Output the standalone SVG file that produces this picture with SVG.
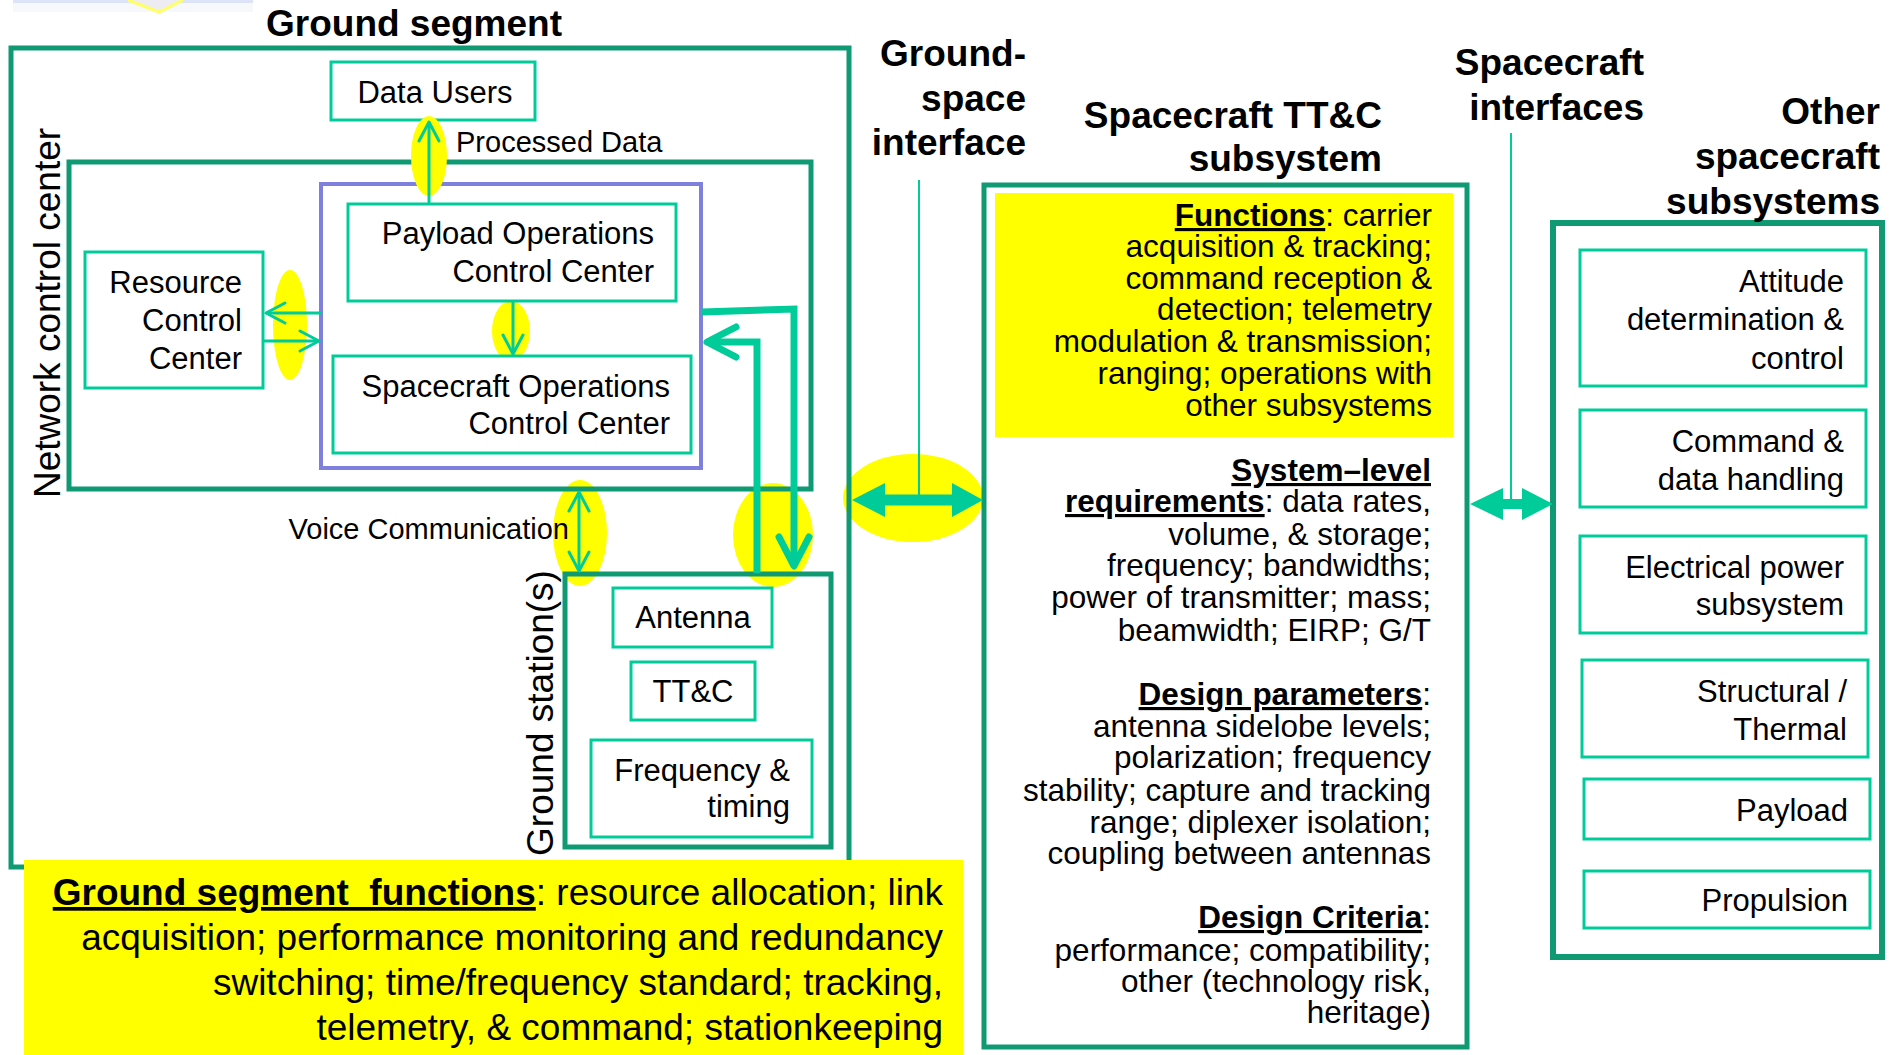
<svg xmlns="http://www.w3.org/2000/svg" width="1898" height="1055" viewBox="0 0 1898 1055">
<style>
text{font-family:"Liberation Sans",Arial,sans-serif;fill:#000}
.t37b{font-size:37px;font-weight:bold}
.rot{font-size:37px}
.lbl{font-size:31px}
.cl{font-size:29px}
.body{font-size:31.5px}
.gf{font-size:37px}
.h{font-weight:bold;text-decoration:underline}
.box{fill:#fff;stroke:#00cc99;stroke-width:3}
.big{fill:none;stroke:#0f9a73;stroke-width:5}
.pur{fill:none;stroke:#7f7fdd;stroke-width:4}
.hl{fill:#ffff00}
.thin{fill:none;stroke:#00cc99;stroke-width:3}
.thick{fill:none;stroke:#00cc99;stroke-width:7;stroke-linejoin:miter}
.lead{stroke:#00cc99;stroke-width:2}
.dbl{fill:#00cc99}
</style>
<defs>
<marker id="openArrow" viewBox="-24 -14 28 28" refX="0" refY="0" markerWidth="28" markerHeight="28" markerUnits="userSpaceOnUse" orient="auto-start-reverse">
<path d="M-19,-10 L0,0 L-19,10" fill="none" stroke="#00cc99" stroke-width="3" stroke-linecap="round" stroke-linejoin="round"/>
</marker>
<marker id="thickArrow" viewBox="-36 -20 42 40" refX="0" refY="0" markerWidth="42" markerHeight="40" markerUnits="userSpaceOnUse" orient="auto">
<path d="M-29,-15 L0,0 L-29,15" fill="none" stroke="#00cc99" stroke-width="7" stroke-linecap="round" stroke-linejoin="round"/>
</marker>
</defs>
<rect width="1898" height="1055" fill="#fff"/>

<rect x="13" y="0" width="240" height="3" fill="#dde4f8"/>
<rect x="13" y="3" width="240" height="9" fill="#f7f8fc"/>
<polyline points="128,0 159,12 183,0" fill="#ececf2" stroke="#ffff66" stroke-width="3"/>

<g id="highlights">
<ellipse class="hl" cx="290" cy="325" rx="17" ry="55"/>
<ellipse class="hl" cx="511" cy="331" rx="19" ry="30"/>
<ellipse class="hl" cx="580" cy="533" rx="27" ry="53"/>
<ellipse class="hl" cx="773" cy="535" rx="40" ry="52"/>
<ellipse class="hl" cx="913" cy="498" rx="70" ry="44"/>
</g>

<g id="ground-segment">
<rect class="big" x="11" y="48" width="838" height="819"/>
<text class="t37b" x="266" y="36">Ground segment</text>
</g>

<g id="network-control-center">
<rect class="big" x="69" y="162" width="742" height="327"/>
<text class="rot" text-anchor="middle" transform="translate(60,313) rotate(-90)">Network control center</text>
</g>

<g id="data-users">
<rect class="box" x="331" y="62" width="204" height="58"/>
<text class="lbl" x="435" y="103" text-anchor="middle">Data Users</text>
</g>

<g id="operations-centers">
<rect class="pur" x="321" y="184" width="380" height="284"/>
</g>

<g id="payload-occ">
<rect class="box" x="348" y="204" width="328" height="97"/>
<text class="lbl" text-anchor="end"><tspan x="654" y="244">Payload Operations</tspan><tspan x="654" y="282">Control Center</tspan></text>
</g>

<g id="spacecraft-occ">
<rect class="box" x="333" y="356" width="358" height="97"/>
<text class="lbl" text-anchor="end"><tspan x="670" y="397">Spacecraft Operations</tspan><tspan x="670" y="434">Control Center</tspan></text>
</g>

<g id="resource-cc">
<rect class="box" x="85" y="252" width="178" height="136"/>
<text class="lbl" text-anchor="end"><tspan x="242" y="293">Resource</tspan><tspan x="242" y="331">Control</tspan><tspan x="242" y="369">Center</tspan></text>
</g>

<ellipse id="pd-highlight" class="hl" cx="429" cy="156" rx="18" ry="40"/>

<g id="ground-stations">
<rect class="big" x="565" y="574" width="266" height="273"/>
<text class="rot" text-anchor="middle" transform="translate(553,713) rotate(-90)">Ground station(s)</text>
</g>

<g id="antenna">
<rect class="box" x="613" y="588" width="159" height="59"/>
<text class="lbl" x="693" y="628" text-anchor="middle">Antenna</text>
</g>

<g id="gs-ttc">
<rect class="box" x="631" y="662" width="124" height="58"/>
<text class="lbl" x="693" y="702" text-anchor="middle">TT&amp;C</text>
</g>

<g id="freq-timing">
<rect class="box" x="591" y="740" width="221" height="97"/>
<text class="lbl" text-anchor="end"><tspan x="790" y="781">Frequency &amp;</tspan><tspan x="790" y="817">timing</tspan></text>
</g>

<g id="ground-functions">
<rect class="hl" x="24" y="860" width="939" height="195"/>
<text class="gf" text-anchor="end"><tspan x="943" y="905"><tspan class="h">Ground segment&#160; functions</tspan>: resource allocation; link</tspan><tspan x="943" y="950">acquisition; performance monitoring and redundancy</tspan><tspan x="943" y="995">switching; time/frequency standard; tracking,</tspan><tspan x="943" y="1040">telemetry, &amp; command; stationkeeping</tspan></text>
</g>

<g id="ground-space-interface">
<text class="t37b" text-anchor="end"><tspan x="1026" y="66">Ground-</tspan><tspan x="1026" y="111">space</tspan><tspan x="1026" y="155">interface</tspan></text>
</g>

<g id="spacecraft-ttc">
<rect class="big" x="984" y="185" width="483" height="862"/>
<text class="t37b" text-anchor="end"><tspan x="1382" y="128">Spacecraft TT&amp;C</tspan><tspan x="1382" y="171">subsystem</tspan></text>
<rect class="hl" x="995" y="193" width="458" height="244"/>
<text class="body" text-anchor="end"><tspan x="1432" y="226"><tspan class="h">Functions</tspan>: carrier</tspan><tspan x="1432" y="257">acquisition &amp; tracking;</tspan><tspan x="1432" y="289">command reception &amp;</tspan><tspan x="1432" y="320">detection; telemetry</tspan><tspan x="1432" y="352">modulation &amp; transmission;</tspan><tspan x="1432" y="384">ranging; operations with</tspan><tspan x="1432" y="416">other subsystems</tspan></text>
<text class="body" text-anchor="end"><tspan x="1431" y="481" class="h">System–level</tspan><tspan x="1431" y="512"><tspan class="h">requirements</tspan>: data rates,</tspan><tspan x="1431" y="545">volume, &amp; storage;</tspan><tspan x="1431" y="576">frequency; bandwidths;</tspan><tspan x="1431" y="608">power of transmitter; mass;</tspan><tspan x="1431" y="641">beamwidth; EIRP; G/T</tspan></text>
<text class="body" text-anchor="end"><tspan x="1431" y="705"><tspan class="h">Design parameters</tspan>:</tspan><tspan x="1431" y="737">antenna sidelobe levels;</tspan><tspan x="1431" y="768">polarization; frequency</tspan><tspan x="1431" y="801">stability; capture and tracking</tspan><tspan x="1431" y="833">range; diplexer isolation;</tspan><tspan x="1431" y="864">coupling between antennas</tspan></text>
<text class="body" text-anchor="end"><tspan x="1431" y="928"><tspan class="h">Design Criteria</tspan>:</tspan><tspan x="1431" y="961">performance; compatibility;</tspan><tspan x="1431" y="992">other (technology risk,</tspan><tspan x="1431" y="1023">heritage)</tspan></text>
</g>

<g id="spacecraft-interfaces">
<text class="t37b" text-anchor="end"><tspan x="1644" y="75">Spacecraft</tspan><tspan x="1644" y="120">interfaces</tspan></text>
</g>

<g id="other-subsystems">
<rect class="big" x="1553" y="223" width="329" height="734" style="stroke-width:6"/>
<text class="t37b" text-anchor="end"><tspan x="1880" y="124">Other</tspan><tspan x="1880" y="169">spacecraft</tspan><tspan x="1880" y="214">subsystems</tspan></text>
</g>

<g id="attitude">
<rect class="box" x="1580" y="250" width="286" height="136"/>
<text class="lbl" text-anchor="end"><tspan x="1844" y="292">Attitude</tspan><tspan x="1844" y="330">determination &amp;</tspan><tspan x="1844" y="369">control</tspan></text>
</g>
<g id="cdh">
<rect class="box" x="1580" y="410" width="286" height="97"/>
<text class="lbl" text-anchor="end"><tspan x="1844" y="452">Command &amp;</tspan><tspan x="1844" y="490">data handling</tspan></text>
</g>
<g id="eps">
<rect class="box" x="1580" y="536" width="286" height="97"/>
<text class="lbl" text-anchor="end"><tspan x="1844" y="578">Electrical power</tspan><tspan x="1844" y="615">subsystem</tspan></text>
</g>
<g id="structural">
<rect class="box" x="1582" y="660" width="286" height="97"/>
<text class="lbl" text-anchor="end"><tspan x="1847" y="702">Structural /</tspan><tspan x="1847" y="740">Thermal</tspan></text>
</g>
<g id="payload">
<rect class="box" x="1584" y="779" width="286" height="60"/>
<text class="lbl" x="1848" y="821" text-anchor="end">Payload</text>
</g>
<g id="propulsion">
<rect class="box" x="1584" y="871" width="286" height="57"/>
<text class="lbl" x="1848" y="911" text-anchor="end">Propulsion</text>
</g>

<g id="connectors">
<line class="thin" x1="429" y1="203" x2="429" y2="122" marker-end="url(#openArrow)"/>
<text class="cl" x="456" y="152">Processed Data</text>
<line class="thin" x1="321" y1="313" x2="266" y2="313" marker-end="url(#openArrow)"/>
<line class="thin" x1="264" y1="341" x2="319" y2="341" marker-end="url(#openArrow)"/>
<line class="thin" x1="513" y1="302" x2="513" y2="354" marker-end="url(#openArrow)"/>
<line class="thin" x1="579" y1="492" x2="579" y2="571" marker-start="url(#openArrow)" marker-end="url(#openArrow)"/>
<text class="cl" x="569" y="539" text-anchor="end">Voice Communication</text>
<polyline class="thick" points="702,312 794,309 794,566" marker-end="url(#thickArrow)"/>
<polyline class="thick" points="757,573 757,342 707,342" marker-end="url(#thickArrow)"/>
<line class="lead" x1="919" y1="180" x2="919" y2="496"/>
<polygon class="dbl" points="852,500 885,483 885,494.5 952,494.5 952,483 983,500 952,517 952,505.5 885,505.5 885,517"/>
<line class="lead" x1="1511" y1="133" x2="1511" y2="500"/>
<polygon class="dbl" points="1470,504 1503,488 1503,499 1522,499 1522,488 1553,504 1522,520 1522,509 1503,509 1503,520"/>
</g>
</svg>
